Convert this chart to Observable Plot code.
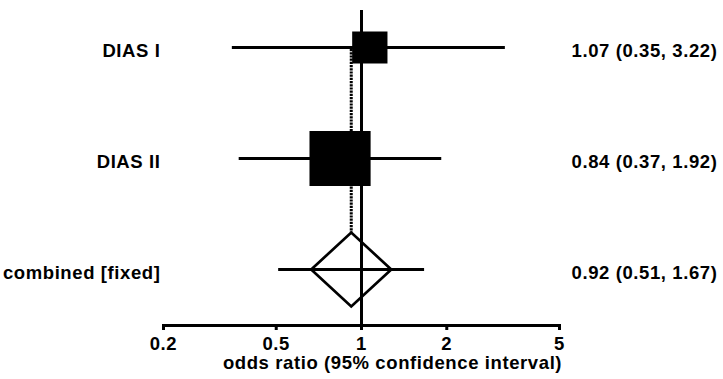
<!DOCTYPE html>
<html>
<head>
<meta charset="utf-8">
<script src="https://cdn.jsdelivr.net/npm/d3@7"></script>
<script src="https://cdn.jsdelivr.net/npm/@observablehq/plot@0.6"></script>
<style>
  html, body { margin: 0; padding: 0; background: #fff; }
</style>
</head>
<body>
<div id="chart"></div>
<script>
// ---- data ----
const studies = ["DIAS I", "DIAS II"];
const studyOR = [1.07, 0.84];
const studyLo = [0.35, 0.37];
const studyHi = [3.22, 1.92];
const studyWeight = [25, 75];
const pooledLabel = "combined [fixed]";
const pooledOR = [0.92];
const pooledLo = [0.51];
const pooledHi = [1.67];
const xTicks = [0.2, 0.5, 1, 2, 5];
const axisLabel = "odds ratio (95% confidence interval)";

// ---- tables built from the arrays ----
const rows = studies.map((label, i) => ({label, or: studyOR[i], lo: studyLo[i], hi: studyHi[i], weight: studyWeight[i]}));
const pooled = [{label: pooledLabel, or: pooledOR[0], lo: pooledLo[0], hi: pooledHi[0]}];
const all = [...rows, ...pooled];
const fmt = d => `${d.or.toFixed(2)} (${d.lo.toFixed(2)}, ${d.hi.toFixed(2)})`;

// custom symbols (slightly wider than tall, like the reference)
const boxSymbol = {draw(ctx, size) {
  const r = Math.sqrt(size / Math.PI), w = r * 1.054, h = r / 1.054;
  ctx.moveTo(-w, -h); ctx.lineTo(w, -h); ctx.lineTo(w, h); ctx.lineTo(-w, h); ctx.closePath();
}};
const diamondSymbol = {draw(ctx, size) {
  const r = Math.sqrt(size / Math.PI), w = r * 1.04, h = r * 0.96;
  ctx.moveTo(-w, 0); ctx.lineTo(0, -h); ctx.lineTo(w, 0); ctx.lineTo(0, h); ctx.closePath();
}};

const chart = Plot.plot({
  width: 723,
  height: 379,
  marginLeft: 163,
  marginRight: 164,
  marginTop: 10,
  marginBottom: 54,
  style: {fontFamily: "'Liberation Sans', Arial, sans-serif", fontWeight: "bold", fontSize: "18.5px", letterSpacing: "0.6px", background: "#fff", color: "#000"},
  x: {type: "log", domain: [0.2, 5], label: null},
  y: {type: "point", domain: all.map(d => d.label), range: [46.5, 268.5], padding: 0, axis: null},
  r: {range: [0, 29]},
  marks: [
    // dotted line at pooled estimate
    Plot.ruleX(pooled, {x: "or", y1: () => studies[0], y2: "label", insetTop: 2, insetBottom: 37, stroke: "#000", strokeWidth: 3, strokeDasharray: "2.2,1"}),
    // CIs
    Plot.ruleY(all, {y: "label", x1: "lo", x2: "hi", stroke: "#000", strokeWidth: 3}),
    // line of no effect
    Plot.ruleX([1], {stroke: "#000", strokeWidth: 3}),
    // axis
    Plot.frame({anchor: "bottom", stroke: "#000", strokeWidth: 3}),
    Plot.axisX({ticks: xTicks, tickFormat: d => String(d), tickSize: 5, tickPadding: 6, strokeWidth: 3, label: null, fill: "#000", stroke: "#000"}),
    // study boxes
    Plot.dot(rows, {x: "or", y: "label", r: "weight", symbol: boxSymbol, fill: "#000", stroke: "none"}),
    // pooled diamond
    Plot.dot(pooled, {x: "or", y: "label", r: 38.5, symbol: diamondSymbol, fill: "none", stroke: "#000", strokeWidth: 2.7}),
    // labels
    Plot.axisY({domain: all.map(d => d.label), anchor: "left", tickSize: 0, tickPadding: 3, dy: 4, label: null, fill: "#000"}),
    Plot.text(all, {y: "label", text: fmt, frameAnchor: "right", textAnchor: "start", dx: 12, dy: 4, fill: "#000"}),
    Plot.text([axisLabel], {frameAnchor: "bottom", lineAnchor: "top", dx: 31, dy: 30, fill: "#000"})
  ]
});
document.getElementById("chart").appendChild(chart);
</script>
</body>
</html>
